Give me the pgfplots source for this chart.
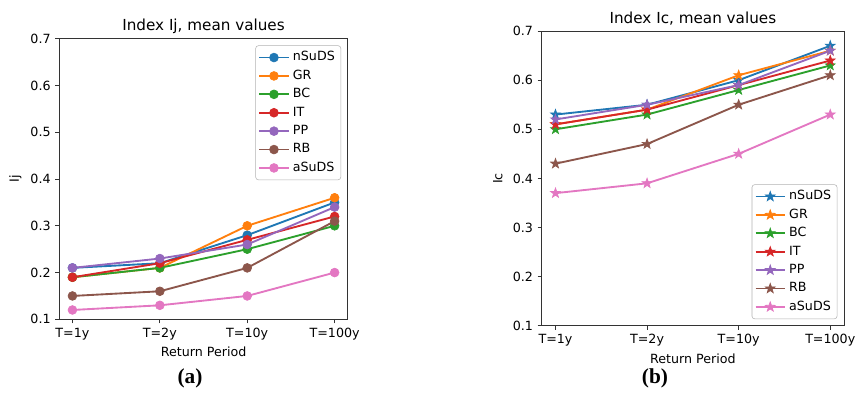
\documentclass[border=0pt]{standalone}
\usepackage{fontspec}
\setmainfont{DejaVu Sans}
\newfontfamily\capfont{Liberation Serif}
\usepackage{pgfplots}
\usepackage{pgfplotstable}
\pgfplotsset{compat=1.18}

\definecolor{c0}{HTML}{1F77B4}
\definecolor{c1}{HTML}{FF7F0E}
\definecolor{c2}{HTML}{2CA02C}
\definecolor{c3}{HTML}{D62728}
\definecolor{c4}{HTML}{9467BD}
\definecolor{c5}{HTML}{8C564B}
\definecolor{c6}{HTML}{E377C2}

% filled five-point star, like matplotlib's '*'
\pgfdeclareplotmark{fstar}{%
  \pgfpathmoveto{\pgfqpointpolar{90}{1.25\pgfplotmarksize}}%
  \pgfpathlineto{\pgfqpointpolar{126}{0.5\pgfplotmarksize}}%
  \pgfpathlineto{\pgfqpointpolar{162}{1.25\pgfplotmarksize}}%
  \pgfpathlineto{\pgfqpointpolar{198}{0.5\pgfplotmarksize}}%
  \pgfpathlineto{\pgfqpointpolar{234}{1.25\pgfplotmarksize}}%
  \pgfpathlineto{\pgfqpointpolar{270}{0.5\pgfplotmarksize}}%
  \pgfpathlineto{\pgfqpointpolar{306}{1.25\pgfplotmarksize}}%
  \pgfpathlineto{\pgfqpointpolar{342}{0.5\pgfplotmarksize}}%
  \pgfpathlineto{\pgfqpointpolar{18}{1.25\pgfplotmarksize}}%
  \pgfpathlineto{\pgfqpointpolar{54}{0.5\pgfplotmarksize}}%
  \pgfpathclose\pgfusepathqfillstroke}

% Ij, mean values
\pgfplotstableread{
x nSuDS GR BC IT PP RB aSuDS
0 0.21 0.19 0.19 0.19 0.21 0.15 0.12
1 0.22 0.21 0.21 0.22 0.23 0.16 0.13
2 0.28 0.30 0.25 0.27 0.26 0.21 0.15
3 0.35 0.36 0.30 0.32 0.34 0.31 0.20
}\ijdata

% Ic, mean values
\pgfplotstableread{
x nSuDS GR BC IT PP RB aSuDS
0 0.53 0.51 0.50 0.51 0.52 0.43 0.37
1 0.55 0.54 0.53 0.54 0.55 0.47 0.39
2 0.60 0.61 0.58 0.59 0.59 0.55 0.45
3 0.67 0.66 0.63 0.64 0.66 0.61 0.53
}\icdata

\pgfplotsset{
  panel/.style={
    scale only axis, anchor=south west,
    xmin=-0.15, xmax=3.15, ymin=0.1, ymax=0.7,
    xtick={0,1,2,3}, xticklabels={T=1y,T=2y,T=10y,T=100y},
    ytick={0.1,0.2,...,0.71},
    axis line style={black!80, line width=0.6pt},
    tick align=outside, tick pos=left,
    major tick length=3pt,
    every tick/.style={black!80, line width=0.6pt},
    tick label style={font=\fontsize{9.5}{10}\selectfont},
    /pgf/number format/assume math mode=true,
    yticklabel style={/pgf/number format/.cd, fixed, fixed zerofill, precision=1},
    title style={font=\fontsize{11.4}{13}\selectfont, at={(axis description cs:0.5,1)}, anchor=center, yshift=3.5pt},
    xlabel style={font=\fontsize{9.5}{10}\selectfont, at={(axis description cs:0.5,0)}, anchor=center, yshift=-24.5pt},
    ylabel style={font=\fontsize{9.5}{10}\selectfont, anchor=center},
    xlabel={Return Period},
    legend cell align=left,
    legend style={font=\fontsize{9.5}{10}\selectfont, draw=black!30, rounded corners=2pt,
      inner xsep=2pt, inner ysep=2pt,
      nodes={inner ysep=2.4pt, inner xsep=2.5pt, text height=7pt, text depth=2pt}},
    legend image code/.code={\draw[mark repeat=2, mark phase=2] plot coordinates {(0pt,0pt) (11pt,0pt) (22pt,0pt)};},
    every axis plot/.append style={line width=1.4pt},
  },
  ser/.style={color=#1, mark options={solid, fill=#1, draw=#1, line width=0.5pt}},
}

\begin{document}
\begin{tikzpicture}
\path[use as bounding box] (0,0) rectangle (642pt,309pt);

\begin{axis}[panel, at={(44.5pt,69.5pt)}, width=216.3pt, height=210.45pt,
  title={Index Ij, mean values}, ylabel={Ij},
  ylabel style={at={(axis description cs:-0.152,0.5)}},
  mark size=3.3pt,
  legend style={at={(axis description cs:1,1)}, anchor=north east, xshift=-5pt, yshift=-5pt}]
\addplot[ser=c0, mark=*] table[x=x, y=nSuDS] {\ijdata};
\addlegendentry{nSuDS}
\addplot[ser=c1, mark=*] table[x=x, y=GR] {\ijdata};
\addlegendentry{GR}
\addplot[ser=c2, mark=*] table[x=x, y=BC] {\ijdata};
\addlegendentry{BC}
\addplot[ser=c3, mark=*] table[x=x, y=IT] {\ijdata};
\addlegendentry{IT}
\addplot[ser=c4, mark=*] table[x=x, y=PP] {\ijdata};
\addlegendentry{PP}
\addplot[ser=c5, mark=*] table[x=x, y=RB] {\ijdata};
\addlegendentry{RB}
\addplot[ser=c6, mark=*] table[x=x, y=aSuDS] {\ijdata};
\addlegendentry{aSuDS}
\end{axis}

\begin{axis}[panel, at={(406.3pt,64.7pt)}, width=226.7pt, height=221pt,
  title={Index Ic, mean values}, ylabel={Ic},
  ylabel style={at={(axis description cs:-0.145,0.5)}},
  mark size=3.1pt,
  legend style={at={(axis description cs:1,0)}, anchor=south east, xshift=-5pt, yshift=5pt}]
\addplot[ser=c0, mark=fstar] table[x=x, y=nSuDS] {\icdata};
\addlegendentry{nSuDS}
\addplot[ser=c1, mark=fstar] table[x=x, y=GR] {\icdata};
\addlegendentry{GR}
\addplot[ser=c2, mark=fstar] table[x=x, y=BC] {\icdata};
\addlegendentry{BC}
\addplot[ser=c3, mark=fstar] table[x=x, y=IT] {\icdata};
\addlegendentry{IT}
\addplot[ser=c4, mark=fstar] table[x=x, y=PP] {\icdata};
\addlegendentry{PP}
\addplot[ser=c5, mark=fstar] table[x=x, y=RB] {\icdata};
\addlegendentry{RB}
\addplot[ser=c6, mark=fstar] table[x=x, y=aSuDS] {\icdata};
\addlegendentry{aSuDS}
\end{axis}

\node[font=\capfont\bfseries\fontsize{16}{18}\selectfont] at (142.5pt,25.5pt) {(a)};
\node[font=\capfont\bfseries\fontsize{16}{18}\selectfont] at (491.25pt,25.5pt) {(b)};
\end{tikzpicture}
\end{document}
